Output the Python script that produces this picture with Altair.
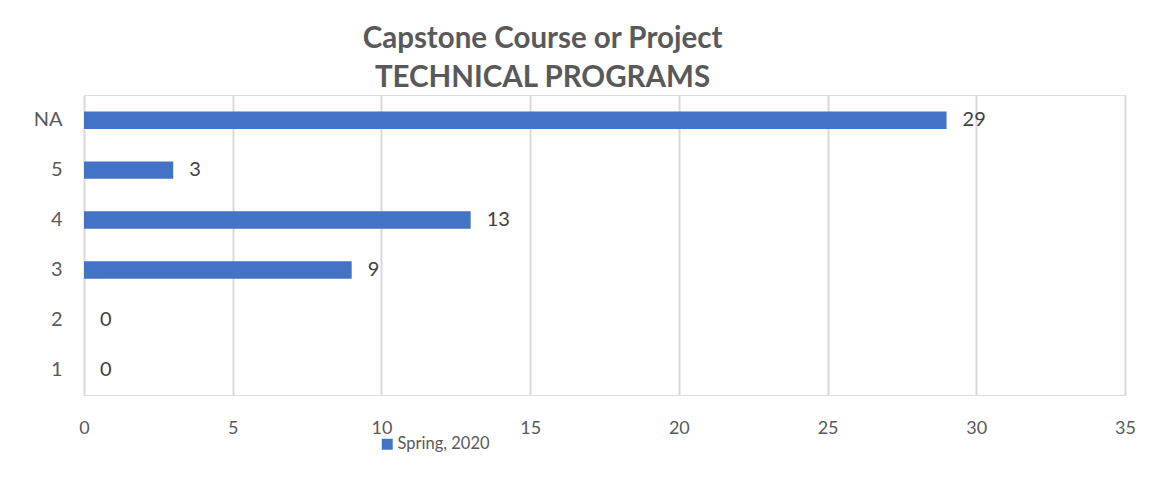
import altair as alt
import pandas as pd

categories = ["NA", "5", "4", "3", "2", "1"]
values = [29, 3, 13, 9, 0, 0]
series = ["Spring, 2020"] * 6

df = pd.DataFrame({"cat": categories, "val": values, "series": series})

FONT = "Lato"
GREY = "#595959"
BLUE = "#4472C4"

base = alt.Chart(df)

bars = base.mark_bar(color=BLUE).encode(
    y=alt.Y("cat:N", sort=categories,
            scale=alt.Scale(paddingInner=0.65, paddingOuter=0.33),
            axis=alt.Axis(title=None, ticks=False, domain=False, labelPadding=22,
                          labelFontSize=20, labelColor=GREY, labelFont=FONT, grid=False)),
    x=alt.X("val:Q", scale=alt.Scale(domain=[0, 35], nice=False),
            axis=alt.Axis(title=None, values=list(range(0, 36, 5)), ticks=False, domain=False,
                          labelFlush=False, labelPadding=24, labelFontSize=18,
                          labelColor=GREY, labelFont=FONT,
                          grid=True, gridColor="#d9d9d9", gridWidth=2)),
    fill=alt.Fill("series:N", scale=alt.Scale(range=[BLUE]),
                  legend=alt.Legend(title=None, orient="none", legendX=295, legendY=341,
                                    symbolType="square", symbolSize=120, symbolStrokeWidth=0,
                                    labelFontSize=16.5, labelColor=GREY, labelFont=FONT,
                                    labelOffset=2)),
)

labels = base.mark_text(align="left", baseline="middle", dx=16, fontSize=20,
                        font=FONT, color="#404040").encode(
    y=alt.Y("cat:N", sort=categories),
    x=alt.X("val:Q"),
    text=alt.Text("val:Q"),
)

chart = (bars + labels).properties(
    width=1041,
    height=300,
    autosize=alt.AutoSizeParams(type="none"),
    padding={"left": 76, "top": 87, "right": 19, "bottom": 81},
    title=alt.TitleParams(
        text=["Capstone Course or Project", "TECHNICAL PROGRAMS"],
        font=FONT, fontSize=29.5, fontWeight="bold", color=GREY,
        anchor="middle", dx=-62, offset=2, lineHeight=39,
    ),
).configure_view(stroke=None).configure(background="white")

chart.save("out.html", embed_options={"renderer": "svg", "actions": False})
